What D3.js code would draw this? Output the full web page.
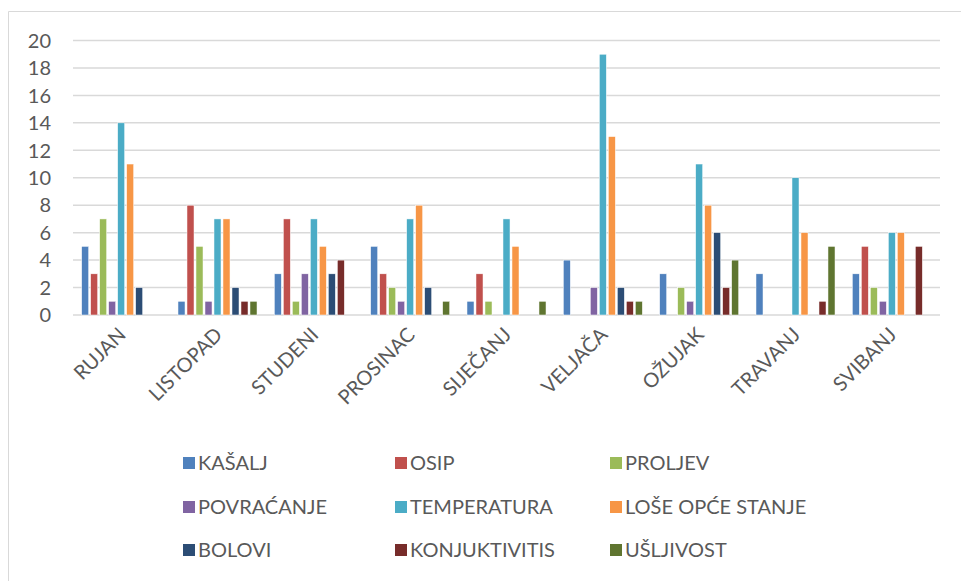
<!DOCTYPE html>
<html>
<head>
<meta charset="utf-8">
<script src="https://cdn.jsdelivr.net/npm/d3@7"></script>
<style>
  body { margin: 0; background: #fff; }
  text { font-family: Lato, "Open Sans", sans-serif; fill: #595959; }
</style>
</head>
<body>
<script>
// months (categories)
var months = ["RUJAN", "LISTOPAD", "STUDENI", "PROSINAC", "SIJEČANJ", "VELJAČA", "OŽUJAK", "TRAVANJ", "SVIBANJ"];

// series names and colours
var seriesNames = ["KAŠALJ", "OSIP", "PROLJEV", "POVRAĆANJE", "TEMPERATURA", "LOŠE OPĆE STANJE", "BOLOVI", "KONJUKTIVITIS", "UŠLJIVOST"];
var colors = ["#4F81BD", "#C0504D", "#9BBB59", "#8064A2", "#4BACC6", "#F79646", "#2C4D75", "#772C2A", "#5F7530"];

// values per series, one per month
var kasalj      = [5, 1, 3, 5, 1, 4, 3, 3, 3];
var osip        = [3, 8, 7, 3, 3, 0, 0, 0, 5];
var proljev     = [7, 5, 1, 2, 1, 0, 2, 0, 2];
var povracanje  = [1, 1, 3, 1, 0, 2, 1, 0, 1];
var temperatura = [14, 7, 7, 7, 7, 19, 11, 10, 6];
var loseStanje  = [11, 7, 5, 8, 5, 13, 8, 6, 6];
var bolovi      = [2, 2, 3, 2, 0, 2, 6, 0, 0];
var konjuktiv   = [0, 1, 4, 0, 0, 1, 2, 1, 5];
var usljivost   = [0, 1, 0, 1, 1, 1, 4, 5, 0];

var yTicks = [0, 2, 4, 6, 8, 10, 12, 14, 16, 18, 20];

var allSeries = [kasalj, osip, proljev, povracanje, temperatura, loseStanje, bolovi, konjuktiv, usljivost];

var width = 961, height = 581;
var svg = d3.select("body").append("svg")
    .attr("width", width)
    .attr("height", height);

// chart frame
svg.append("path")
    .attr("d", "M8.5," + height + " V11.5 H" + width)
    .style("fill", "none")
    .style("stroke", "#d9d9d9")
    .style("stroke-width", 1);

var x0 = d3.scaleBand().domain(months).range([73, 940]);
var x1 = d3.scaleBand().domain(seriesNames).range([0, 81]).paddingInner(0.22).paddingOuter(0.11);
var y = d3.scaleLinear().domain([0, 20]).range([315, 40.5]);

// gridlines
svg.selectAll("line.grid")
    .data(yTicks)
    .enter()
    .append("line")
    .attr("class", "grid")
    .attr("x1", 73)
    .attr("x2", 940)
    .attr("y1", function (d) { return y(d); })
    .attr("y2", function (d) { return y(d); })
    .style("stroke", "#d9d9d9")
    .style("stroke-width", 1.5);

// y labels
svg.selectAll("text.ytick")
    .data(yTicks)
    .enter()
    .append("text")
    .attr("class", "ytick")
    .attr("x", 51)
    .attr("y", function (d) { return y(d); })
    .attr("dy", "0.36em")
    .attr("text-anchor", "end")
    .style("font-size", "20px")
    .text(function (d) { return d; });

// bars
var groups = svg.selectAll("g.month")
    .data(months)
    .enter()
    .append("g")
    .attr("class", "month")
    .attr("transform", function (d) {
        return "translate(" + (x0(d) + x0.bandwidth() / 2 - 40.5) + ",0)";
    });

groups.selectAll("rect")
    .data(function (m, i) {
        return seriesNames.map(function (s, j) {
            return { series: s, value: allSeries[j][i], color: colors[j] };
        });
    })
    .enter()
    .append("rect")
    .attr("x", function (d) { return x1(d.series); })
    .attr("y", function (d) { return y(d.value); })
    .attr("width", x1.bandwidth())
    .attr("height", function (d) { return y(0) - y(d.value); })
    .style("fill", function (d) { return d.color; })
    .style("stroke", "#fff")
    .style("stroke-width", 0.5);

// month labels
svg.selectAll("text.month")
    .data(months)
    .enter()
    .append("text")
    .attr("class", "month")
    .attr("text-anchor", "end")
    .attr("transform", function (d) {
        return "translate(" + (x0(d) + x0.bandwidth() / 2 + 6) + ",336) rotate(-45)";
    })
    .style("font-size", "20px")
    .text(function (d) { return d; });

// legend
var colX = [183, 395, 610];
var rowY = [463, 507, 550];
var legend = svg.selectAll("g.legend")
    .data(seriesNames)
    .enter()
    .append("g")
    .attr("class", "legend")
    .attr("transform", function (d, i) {
        return "translate(" + colX[i % 3] + "," + rowY[Math.floor(i / 3)] + ")";
    });

legend.append("rect")
    .attr("x", 0)
    .attr("y", -6)
    .attr("width", 12)
    .attr("height", 12)
    .style("fill", function (d, i) { return colors[i]; });

legend.append("text")
    .attr("x", 15)
    .attr("y", 0)
    .attr("dy", "0.36em")
    .style("font-size", "20px")
    .text(function (d) { return d; });
</script>
</body>
</html>
